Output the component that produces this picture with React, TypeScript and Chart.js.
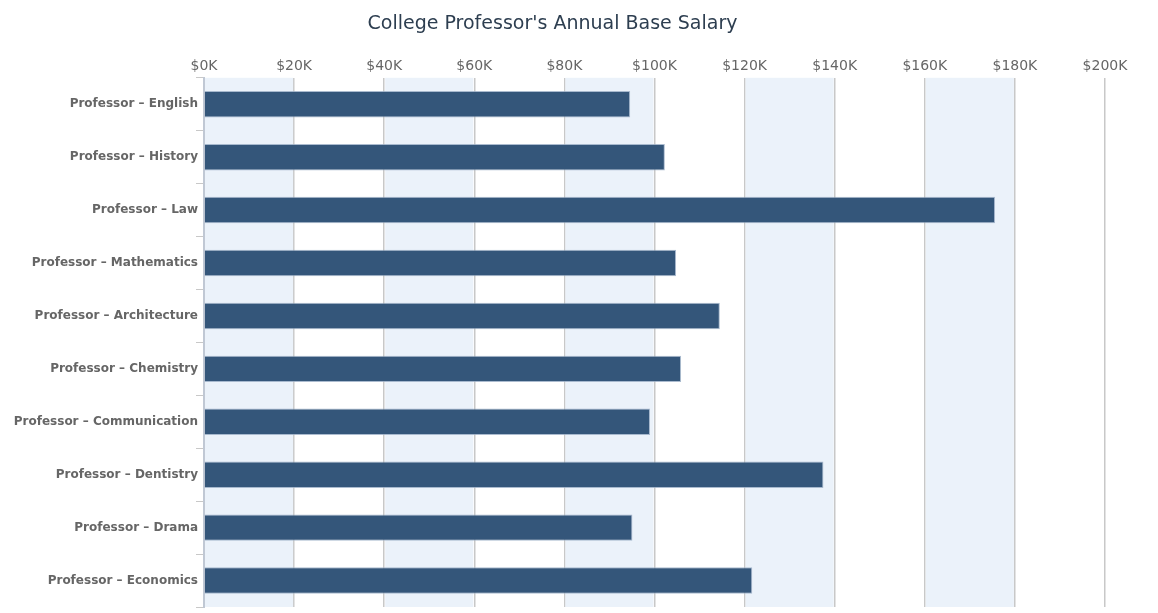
import React, { useEffect, useRef } from "react";
import { Chart, registerables } from "chart.js";

Chart.register(...registerables);

const TITLE = "College Professor's Annual Base Salary";
const categories = [
  "Professor – English",
  "Professor – History",
  "Professor – Law",
  "Professor – Mathematics",
  "Professor – Architecture",
  "Professor – Chemistry",
  "Professor – Communication",
  "Professor – Dentistry",
  "Professor – Drama",
  "Professor – Economics",
];
const salaries = [94600, 102300, 175600, 104800, 114500, 105900, 99000, 137500, 95100, 121700];
const xMin = 0;
const xMax = 200000;
const xStep = 20000;

const bandPlugin = {
  id: "bands",
  beforeDatasetsDraw(chart: any) {
    const { ctx, chartArea, scales } = chart;
    const x = scales.x;
    ctx.save();
    ctx.fillStyle = "#ebf2fa";
    for (let v = xMin; v < xMax; v += xStep * 2) {
      const a = x.getPixelForValue(v);
      const b = x.getPixelForValue(v + xStep);
      ctx.fillRect(a + 1, chartArea.top, b - a - 2, chartArea.bottom - chartArea.top);
    }
    ctx.restore();
  },
};

export default function App() {
  const ref = useRef<HTMLCanvasElement | null>(null);
  useEffect(() => {
    if (!ref.current) return;
    const chart = new Chart(ref.current, {
      type: "bar",
      data: {
        labels: categories,
        datasets: [
          {
            data: salaries,
            backgroundColor: "#34567a",
            borderColor: "rgba(150,170,195,0.8)",
            borderWidth: 1,
            categoryPercentage: 1,
            barPercentage: 0.5,
          },
        ],
      },
      options: {
        indexAxis: "y",
        animation: false,
        responsive: true,
        maintainAspectRatio: false,
        layout: { padding: { left: 0, right: 53, top: 0, bottom: 6 } },
        plugins: {
          legend: { display: false },
          tooltip: { enabled: false },
          title: {
            display: true,
            text: TITLE,
            color: "#2d3e50",
            font: { family: "'DejaVu Sans', sans-serif", size: 19, weight: "normal", lineHeight: 1.2 },
            padding: { top: 13, bottom: 10 },
          },
        },
        scales: {
          x: {
            type: "linear",
            position: "top",
            min: xMin,
            max: xMax,
            ticks: {
              stepSize: xStep,
              color: "#666666",
              padding: 3,
              font: { family: "'DejaVu Sans', sans-serif", size: 14 },
              callback: (v: any) => "$" + Math.round(Number(v) / 1000) + "K",
            },
            grid: { color: "#c8c8c8", lineWidth: 1.5, drawTicks: false },
            border: { display: false },
            afterFit: (s: any) => {
              s.height = 32;
            },
          },
          y: {
            type: "category",
            offset: true,
            ticks: {
              color: "#666666",
              padding: -2,
              font: { family: "'DejaVu Sans', sans-serif", size: 12, weight: "bold" },
            },
            grid: {
              offset: true,
              drawOnChartArea: false,
              drawTicks: true,
              tickLength: 8,
              color: "#c8c8c8",
            },
            border: { display: true, color: "#c0c8d4", width: 2 },
            afterFit: (s: any) => {
              s.width = 204;
            },
          },
        },
      },
      plugins: [bandPlugin],
    });
    return () => chart.destroy();
  }, []);
  return (
    <div style={{ position: "fixed", left: 0, top: 0, width: 1158, height: 613, background: "#ffffff" }}>
      <canvas ref={ref} />
    </div>
  );
}
